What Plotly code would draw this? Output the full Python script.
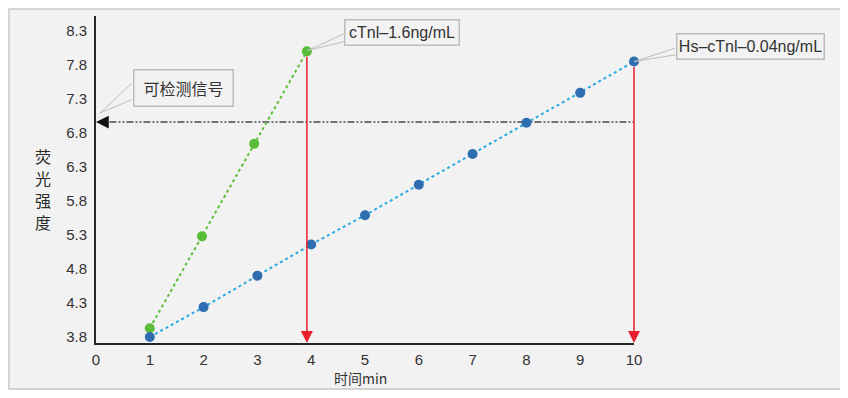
import plotly.graph_objects as go

# ---------------- data ----------------
blue_time = [1, 2, 3, 4, 5, 6, 7, 8, 9, 10]
blue_signal = [3.80, 4.24, 4.70, 5.16, 5.59, 6.04, 6.49, 6.95, 7.39, 7.85]

green_time = [1.0, 1.97, 2.94, 3.92]
green_signal = [3.93, 5.28, 6.64, 8.00]

threshold = 6.96
x_ticks = [0, 1, 2, 3, 4, 5, 6, 7, 8, 9, 10]
y_ticks = [3.8, 4.3, 4.8, 5.3, 5.8, 6.3, 6.8, 7.3, 7.8, 8.3]
y_tick_labels = ["3.8", "4.3", "4.8", "5.3", "5.8", "6.3", "6.8", "7.3", "7.8", "8.3"]

label_green = "cTnl–1.6ng/mL"
label_blue = "Hs–cTnl–0.04ng/mL"
label_threshold = "可检测信号"
x_title = "时间min"
y_title = "荧光强度"

X_RANGE = [0, 10]
Y_RANGE = [3.712, 8.52]

FONT = "Liberation Sans, Arial, Noto Sans CJK SC, sans-serif"
CJK = "Noto Sans CJK SC, sans-serif"
TXT = "#333333"
GREEN = "#5cbd3b"
GREEN_LINE = "#5cbf3a"
BLUE = "#2e6db0"
BLUE_LINE = "#29a9e1"
RED = "#e8202c"
GREY_BORDER = "#bdbdbd"
BG = "#f2f2f2"

fig = go.Figure()

# threshold dash-dot line
fig.add_trace(go.Scatter(
    x=[0.25, blue_time[-1]], y=[threshold, threshold], mode="lines",
    line=dict(color="#4a4a4a", width=1.5, dash="7px,2px,2px,2px,2px,2px"),
    hoverinfo="skip", showlegend=False))

# dotted series lines + markers
fig.add_trace(go.Scatter(
    x=green_time, y=green_signal, mode="lines",
    line=dict(color=GREEN_LINE, width=2, dash="dot"),
    showlegend=False, cliponaxis=False))
fig.add_trace(go.Scatter(
    x=blue_time, y=blue_signal, mode="lines",
    line=dict(color=BLUE_LINE, width=2, dash="dot"),
    showlegend=False, cliponaxis=False))
fig.add_trace(go.Scatter(
    x=green_time, y=green_signal, mode="markers",
    marker=dict(color=GREEN, size=10), showlegend=False, cliponaxis=False))
fig.add_trace(go.Scatter(
    x=blue_time, y=blue_signal, mode="markers",
    marker=dict(color=BLUE, size=10), showlegend=False, cliponaxis=False))

annotations = []

# red arrows dropping to the x axis
for xt, yt in [(green_time[-1], green_signal[-1]), (blue_time[-1], blue_signal[-1])]:
    annotations.append(dict(
        x=xt, y=Y_RANGE[0], ax=xt, ay=yt, xref="x", yref="y", axref="x", ayref="y",
        text="", showarrow=True, arrowhead=2, arrowsize=1.6, arrowwidth=1.5,
        arrowcolor=RED, startstandoff=4))

# black arrow head on threshold line at the y axis
annotations.append(dict(
    x=0, y=threshold, ax=0.25, ay=threshold, xref="x", yref="y", axref="x", ayref="y",
    text="", showarrow=True, arrowhead=2, arrowsize=1.7, arrowwidth=1.5,
    arrowcolor="#111111"))


def callout(px, py, text, xshift, yshift, w, h, tip, base1, base2, font):
    # box
    annotations.append(dict(
        x=px, y=py, xref="x", yref="y", text=text, showarrow=False,
        xanchor="left", yanchor="bottom", xshift=xshift, yshift=yshift,
        width=w, height=h, align="center", valign="middle",
        bgcolor=BG, bordercolor=GREY_BORDER, borderwidth=1.5, borderpad=0,
        font=dict(family=font, size=16, color=TXT)))
    # wedge pointer (two lines)
    for b in (base1, base2):
        annotations.append(dict(
            x=px, y=py, xref="x", yref="y", text="", showarrow=True,
            xshift=tip[0], yshift=tip[1],
            ax=b[0] - tip[0], ay=-(b[1] - tip[1]),
            arrowhead=0, arrowwidth=1, arrowcolor=GREY_BORDER))


callout(0, threshold, label_threshold, 37, 15, 98, 35, (4, 9), (37, 40), (37, 23), CJK)
callout(green_time[-1], green_signal[-1], label_green, 37, 5, 113, 24, (1, 1), (38, 18), (38, 10), FONT)
callout(blue_time[-1], blue_signal[-1], label_blue, 42, 2, 146, 24, (0, 0), (43, 14), (43, 7), FONT)

# y-axis title: characters stacked vertically, one annotation each
for i, ch in enumerate(y_title):
    annotations.append(dict(
        x=0, y=1, xref="paper", yref="paper", xshift=-53, yshift=-140 - 22 * i,
        text=ch, showarrow=False, xanchor="center", yanchor="middle", borderpad=0,
        font=dict(family=CJK, size=16, color="#2a2a2a")))
annotations.append(dict(
    x=0.5, y=0, xref="paper", yref="paper", xshift=-5, yshift=-35,
    text=x_title, showarrow=False, xanchor="center", yanchor="middle",
    font=dict(family=CJK, size=14, color=TXT)))

# figure is 8px smaller than the window: the page body adds an 8px margin
fig.update_layout(
    width=840, height=390, autosize=False,
    margin=dict(l=88, r=214, t=8, b=55),
    paper_bgcolor="white", plot_bgcolor="rgba(0,0,0,0)",
    showlegend=False,
    annotations=annotations,
    shapes=[dict(type="rect", xref="paper", yref="paper",
                 x0=-0.1617, x1=1.3866, y0=-0.1407, y1=1.0214,
                 fillcolor=BG, line=dict(color="#c8c8c8", width=1.5), layer="below")],
    xaxis=dict(range=X_RANGE, tickvals=x_ticks, showgrid=False, zeroline=False,
               showline=True, linecolor="#262626", linewidth=2, ticks="",
               ticklabelstandoff=2,
               tickfont=dict(family=FONT, size=15, color=TXT), fixedrange=True),
    yaxis=dict(range=Y_RANGE, tickvals=y_ticks, ticktext=y_tick_labels, showgrid=False,
               zeroline=False, showline=True, linecolor="#262626", linewidth=2, ticks="",
               ticklabelstandoff=4,
               tickfont=dict(family=FONT, size=15, color=TXT), fixedrange=True),
)

fig.write_html("out.html")
